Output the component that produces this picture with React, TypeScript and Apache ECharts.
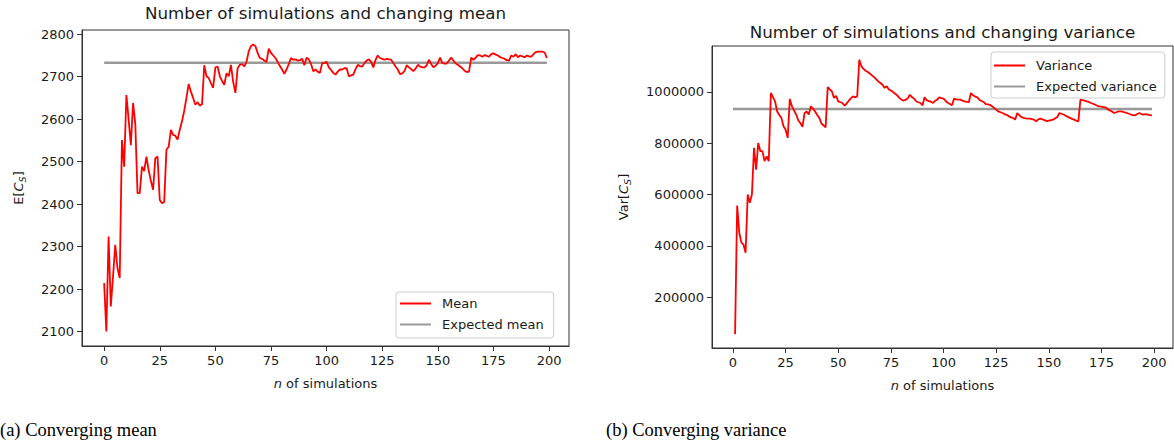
import React, { useEffect, useRef } from "react";
import * as echarts from "echarts";

const xTicks = [0, 25, 50, 75, 100, 125, 150, 175, 200];
const meanTicks = [2100, 2200, 2300, 2400, 2500, 2600, 2700, 2800];
const varTicks = [200000, 400000, 600000, 800000, 1000000];

const expectedMean = 2733;
const expectedVariance = 934000;
const expectedRange = [0, 199];

const meanPoints: [number, number][] = [
  [0, 2214], [1, 2100], [2, 2324], [3, 2159], [4, 2230], [5, 2304], [6, 2249], [7, 2226],
  [8, 2551], [9, 2488], [10, 2657], [11, 2600], [12, 2539], [13, 2638], [14, 2590], [15, 2426],
  [16, 2426], [17, 2488], [18, 2478], [19, 2512], [20, 2480], [21, 2455], [22, 2434], [23, 2508],
  [24, 2512], [25, 2410], [26, 2402], [27, 2405], [28, 2528], [29, 2535], [30, 2575], [31, 2563],
  [32, 2561], [33, 2552], [34, 2575], [35, 2595], [36, 2620], [37, 2650], [38, 2683], [39, 2665],
  [40, 2650], [41, 2634], [42, 2640], [43, 2632], [44, 2635], [45, 2727], [46, 2701], [47, 2697],
  [48, 2685], [49, 2674], [50, 2722], [51, 2724], [52, 2701], [53, 2690], [54, 2681], [55, 2708],
  [56, 2701], [57, 2728], [58, 2688], [59, 2662], [60, 2720], [61, 2728], [62, 2730], [63, 2724],
  [64, 2735], [65, 2760], [66, 2772], [67, 2776], [68, 2772], [69, 2756], [70, 2744], [71, 2742],
  [72, 2738], [73, 2735], [74, 2766], [75, 2756], [76, 2750], [77, 2744], [78, 2735], [79, 2725],
  [80, 2717], [81, 2707], [82, 2717], [83, 2730], [84, 2744], [85, 2740], [86, 2741], [87, 2738],
  [88, 2739], [89, 2742], [90, 2727], [91, 2745], [92, 2741], [93, 2730], [94, 2713], [95, 2717],
  [96, 2712], [97, 2709], [98, 2732], [99, 2732], [100, 2735], [101, 2722], [102, 2716], [103, 2709],
  [104, 2705], [105, 2712], [106, 2717], [107, 2717], [108, 2720], [109, 2720], [110, 2701], [111, 2703],
  [112, 2705], [113, 2718], [114, 2728], [115, 2725], [116, 2724], [117, 2732], [118, 2738], [119, 2741],
  [120, 2735], [121, 2722], [122, 2740], [123, 2750], [124, 2744], [125, 2742], [126, 2740], [127, 2742],
  [128, 2741], [129, 2740], [130, 2732], [131, 2724], [132, 2717], [133, 2706], [134, 2708], [135, 2713],
  [136, 2727], [137, 2722], [138, 2718], [139, 2713], [140, 2719], [141, 2728], [142, 2724], [143, 2722],
  [144, 2722], [145, 2727], [146, 2740], [147, 2730], [148, 2722], [149, 2726], [150, 2732], [151, 2745],
  [152, 2732], [153, 2731], [154, 2731], [155, 2738], [156, 2745], [157, 2738], [158, 2731], [159, 2728],
  [160, 2724], [161, 2720], [162, 2714], [163, 2711], [164, 2712], [165, 2745], [166, 2740], [167, 2745],
  [168, 2751], [169, 2750], [170, 2747], [171, 2751], [172, 2749], [173, 2747], [174, 2753], [175, 2755],
  [176, 2752], [177, 2750], [178, 2746], [179, 2744], [180, 2742], [181, 2739], [182, 2738], [183, 2750],
  [184, 2747], [185, 2753], [186, 2746], [187, 2750], [188, 2748], [189, 2746], [190, 2750], [191, 2748],
  [192, 2747], [193, 2753], [194, 2758], [195, 2759], [196, 2759], [197, 2759], [198, 2757], [199, 2744],
];

const variancePoints: [number, number][] = [
  [1, 55000], [2, 557000], [3, 451000], [4, 412000], [5, 405000], [6, 373000], [7, 600000], [8, 568000],
  [9, 600000], [10, 782000], [11, 697000], [12, 801000], [13, 769000], [14, 769000], [15, 730000], [16, 749000],
  [17, 730000], [18, 996000], [20, 963000], [21, 924000], [22, 910000], [23, 899000], [24, 866000], [25, 853000],
  [26, 821000], [27, 973000], [28, 944000], [30, 912000], [31, 890000], [32, 879000], [33, 864000], [34, 918000],
  [35, 924000], [36, 912000], [37, 944000], [38, 935000], [39, 924000], [40, 910000], [41, 899000], [42, 877000],
  [43, 870000], [44, 862000], [45, 1019500], [46, 1010000], [47, 1002000], [48, 977000], [49, 985000], [50, 963000],
  [51, 960000], [52, 957000], [53, 947000], [54, 955000], [55, 966000], [56, 975000], [57, 983000], [58, 979000],
  [59, 983000], [60, 1126000], [61, 1100000], [62, 1090000], [63, 1083000], [64, 1078000], [65, 1072000], [66, 1065000],
  [67, 1058000], [68, 1050000], [69, 1041000], [70, 1035000], [71, 1028000], [72, 1016000], [73, 1022000], [74, 1010000],
  [75, 1006000], [76, 1000000], [77, 993000], [78, 987000], [79, 977000], [80, 971000], [81, 966000], [82, 970000],
  [83, 975000], [84, 989000], [85, 980000], [86, 974000], [87, 964000], [88, 960000], [89, 957000], [90, 948000],
  [91, 979000], [92, 968000], [93, 964000], [94, 962000], [95, 957000], [96, 966000], [97, 970000], [98, 979000],
  [99, 976000], [100, 974000], [101, 965000], [102, 958000], [103, 953000], [104, 948000], [105, 974000], [106, 971000],
  [107, 970000], [108, 970000], [109, 966000], [110, 963000], [111, 961000], [112, 960000], [113, 996000], [114, 987000],
  [115, 982000], [116, 979000], [117, 970000], [118, 965000], [119, 961000], [120, 953000], [121, 952000], [122, 950000],
  [123, 944000], [124, 938000], [125, 931000], [126, 924000], [127, 921000], [128, 918000], [129, 913000], [130, 911000],
  [131, 905000], [132, 901000], [133, 899000], [134, 892000], [135, 918000], [136, 909000], [137, 902000], [138, 899000],
  [139, 897000], [140, 896000], [141, 896000], [142, 894000], [143, 892000], [144, 886000], [145, 893000], [146, 896000],
  [147, 893000], [148, 890000], [149, 886000], [150, 888000], [151, 890000], [152, 892000], [153, 897000], [154, 902000],
  [155, 918000], [156, 915000], [157, 912000], [158, 907000], [159, 903000], [160, 899000], [161, 895000], [162, 892000],
  [163, 888000], [164, 885000], [165, 970000], [166, 968000], [167, 966000], [168, 963000], [169, 961000], [170, 957000],
  [171, 954000], [172, 950000], [173, 946000], [174, 944000], [175, 943000], [176, 941000], [177, 940000], [178, 932000],
  [179, 928000], [180, 924000], [181, 918000], [182, 921000], [183, 924000], [184, 924000], [185, 923000], [186, 920000],
  [187, 918000], [188, 915000], [189, 912000], [190, 910000], [191, 909000], [192, 914000], [193, 918000], [194, 914000],
  [195, 912000], [196, 914000], [197, 912000], [198, 910000], [199, 909000],
];

const FONT = "'DejaVu Sans', sans-serif";
const TXT = "#1a1a1a";
const SPINE = "#333333";
const RED = "#ff0000";
const GREY = "#999999";

function xAxisOpt(gridIndex: number) {
  return {
    gridIndex,
    type: "value",
    min: -9.95,
    max: 208.95,
    splitLine: { show: false },
    axisLine: { show: true, onZero: false, lineStyle: { color: SPINE, width: 1 } },
    axisTick: { show: true, length: 5, customValues: xTicks, lineStyle: { color: SPINE } },
    axisLabel: { customValues: xTicks, margin: 8, color: TXT, fontSize: 13, fontFamily: FONT },
    name: "{i|n} of simulations",
    nameLocation: "middle",
    nameGap: 31,
    nameTextStyle: {
      color: TXT,
      fontSize: 13,
      fontFamily: FONT,
      rich: { i: { fontStyle: "italic", fontSize: 13, fontFamily: FONT, color: TXT } },
    },
  };
}

function yAxisOpt(gridIndex: number, min: number, max: number, ticks: number[], name: string, gap: number) {
  return {
    gridIndex,
    type: "value",
    min,
    max,
    splitLine: { show: false },
    axisLine: { show: true, onZero: false, lineStyle: { color: SPINE, width: 1 } },
    axisTick: { show: true, length: 5, customValues: ticks, lineStyle: { color: SPINE } },
    axisLabel: {
      customValues: ticks,
      margin: 8,
      color: TXT,
      fontSize: 13,
      fontFamily: FONT,
      formatter: (v: number) => String(v),
    },
    name,
    nameLocation: "middle",
    nameGap: gap,
    nameRotate: 90,
    nameTextStyle: {
      color: TXT,
      fontSize: 13,
      fontFamily: FONT,
      rich: {
        i: { fontStyle: "italic", fontSize: 13, fontFamily: FONT, color: TXT },
        s: { fontStyle: "italic", fontSize: 9.5, fontFamily: FONT, color: TXT, verticalAlign: "bottom", padding: [7, 0, 0, 0] },
      },
    },
  };
}

function legendOpt(names: string[], left: number, top: number, padding: number[]) {
  return {
    data: names,
    left,
    top,
    orient: "vertical",
    icon: "rect",
    itemWidth: 31,
    itemHeight: 2,
    itemGap: 8,
    padding,
    backgroundColor: "rgba(255,255,255,0.8)",
    borderColor: "#cccccc",
    borderWidth: 1,
    borderRadius: 3,
    textStyle: { color: TXT, fontSize: 13, fontFamily: FONT, padding: [0, 0, 0, 6] },
  };
}

export default function App() {
  const ref = useRef<HTMLDivElement>(null);
  useEffect(() => {
    if (!ref.current) return;
    const chart = echarts.init(ref.current, null, { renderer: "svg" });
    const flat = (v: number) => expectedRange.map((x) => [x, v]);
    chart.setOption({
      animation: false,
      backgroundColor: "#ffffff",
      grid: [
        { left: 82, top: 30, width: 487, height: 316, show: true, borderColor: SPINE, borderWidth: 1, backgroundColor: "transparent" },
        { left: 712, top: 46, width: 461, height: 302, show: true, borderColor: SPINE, borderWidth: 1, backgroundColor: "transparent" },
      ],
      xAxis: [xAxisOpt(0), xAxisOpt(1)],
      yAxis: [
        yAxisOpt(0, 2066, 2810, meanTicks, "E[{i|C}{s|S}]", 55),
        yAxisOpt(1, 1145, 1179355, varTicks, "Var[{i|C}{s|S}]", 80),
      ],
      legend: [
        legendOpt(["Mean", "Expected mean"], 396, 292, [5, 10, 7, 4]),
        legendOpt(["Variance", "Expected variance"], 991, 52, [7, 8, 5, 3]),
      ],
      graphic: [
        { type: "text", x: 325.5, y: 13, style: { text: "Number of simulations and changing mean", fill: TXT, font: `16.7px ${FONT}`, align: "center", verticalAlign: "middle" } },
        { type: "text", x: 942.5, y: 32, style: { text: "Number of simulations and changing variance", fill: TXT, font: `16.7px ${FONT}`, align: "center", verticalAlign: "middle" } },
        { type: "text", x: 0, y: 430, style: { text: "(a) Converging mean", fill: "#000", font: `18.5px 'Liberation Serif', serif`, align: "left", verticalAlign: "middle" } },
        { type: "text", x: 606, y: 430, style: { text: "(b) Converging variance", fill: "#000", font: `18.5px 'Liberation Serif', serif`, align: "left", verticalAlign: "middle" } },
      ],
      series: [
        { name: "Mean", type: "line", xAxisIndex: 0, yAxisIndex: 0, data: meanPoints, showSymbol: false, symbol: "none", color: RED, lineStyle: { color: RED, width: 1.8 }, z: 3 },
        { name: "Expected mean", type: "line", xAxisIndex: 0, yAxisIndex: 0, data: flat(expectedMean), showSymbol: false, symbol: "none", color: GREY, lineStyle: { color: GREY, width: 2.5 }, z: 2 },
        { name: "Variance", type: "line", xAxisIndex: 1, yAxisIndex: 1, data: variancePoints, showSymbol: false, symbol: "none", color: RED, lineStyle: { color: RED, width: 1.8 }, z: 3 },
        { name: "Expected variance", type: "line", xAxisIndex: 1, yAxisIndex: 1, data: flat(expectedVariance), showSymbol: false, symbol: "none", color: GREY, lineStyle: { color: GREY, width: 2.5 }, z: 2 },
      ],
    });
    return () => chart.dispose();
  }, []);
  return <div ref={ref} style={{ position: "fixed", left: 0, top: 0, width: 1174, height: 443 }} />;
}
